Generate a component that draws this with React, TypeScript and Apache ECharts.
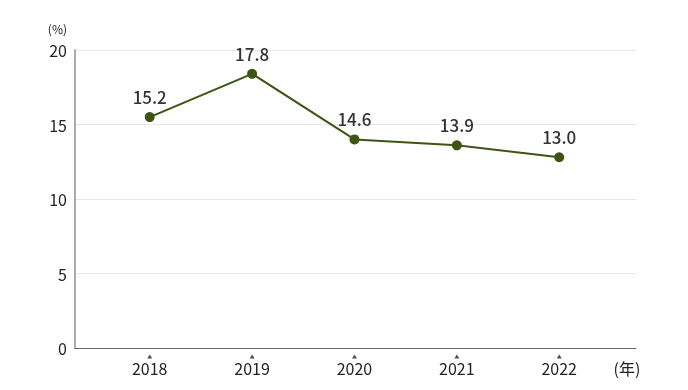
import React, { useEffect, useRef } from "react";
import * as echarts from "echarts";

const years = [2018, 2019, 2020, 2021, 2022];
const plotted = [15.5, 18.4, 14.0, 13.6, 12.8];
const labels = ["15.2", "17.8", "14.6", "13.9", "13.0"];
const yTicks = [0, 5, 10, 15, 20];

const FONT = "'Noto Sans CJK JP', 'Noto Sans', sans-serif";

export default function App() {
  const ref = useRef<HTMLDivElement>(null);
  useEffect(() => {
    const chart = echarts.init(ref.current!, null, { renderer: "svg" });
    chart.setOption({
      animation: false,
      textStyle: { fontFamily: FONT },
      grid: { left: 75, right: 52, top: 50, bottom: 42 },
      xAxis: {
        type: "value",
        min: 2017.27,
        max: 2022.75,
        splitLine: { show: false },
        axisTick: { show: false },
        axisLine: { show: true, lineStyle: { color: "#666", width: 1 } },
        axisLabel: {
          customValues: years,
          margin: 12,
          fontSize: 16,
          lineHeight: 16,
          color: "#222",
          fontFamily: FONT,
          formatter: (v: number) => String(Math.round(v)),
        },
      },
      yAxis: {
        type: "value",
        min: 0,
        max: 20,
        interval: 5,
        axisLine: { show: true, lineStyle: { color: "#aaa", width: 2 } },
        axisTick: { show: false },
        splitLine: { lineStyle: { color: "#e8e8e8", width: 1 } },
        axisLabel: {
          customValues: yTicks,
          fontSize: 16,
          lineHeight: 16,
          color: "#222",
          margin: 8,
          fontFamily: FONT,
        },
      },
      graphic: [
        {
          type: "text",
          x: 67,
          y: 28,
          style: { text: "(%)", fontSize: 12, fill: "#222", fontFamily: FONT, align: "right", verticalAlign: "middle" },
        },
        {
          type: "text",
          x: 627,
          y: 368,
          style: { text: "(年)", fontSize: 16, fill: "#222", fontFamily: FONT, align: "center", verticalAlign: "middle" },
        },
      ],
      series: [
        {
          type: "scatter",
          data: years.map((y) => [y, 0]),
          symbol: "triangle",
          symbolSize: [5, 4],
          symbolOffset: [0, 8.5],
          itemStyle: { color: "#222" },
          clip: false,
          silent: true,
          z: 1,
        },
        {
          type: "line",
          data: years.map((y, i) => [y, plotted[i]]),
          symbol: "circle",
          symbolSize: 10,
          lineStyle: { color: "#3d5412", width: 2 },
          itemStyle: { color: "#3d5412" },
          label: {
            show: true,
            position: "top",
            distance: 7,
            fontSize: 17,
            fontWeight: 500,
            color: "#333",
            fontFamily: FONT,
            formatter: (p: any) => labels[p.dataIndex],
          },
        },
      ],
    });
    return () => chart.dispose();
  }, []);
  return <div ref={ref} style={{ position: "fixed", left: 0, top: 0, width: 688, height: 390 }} />;
}
